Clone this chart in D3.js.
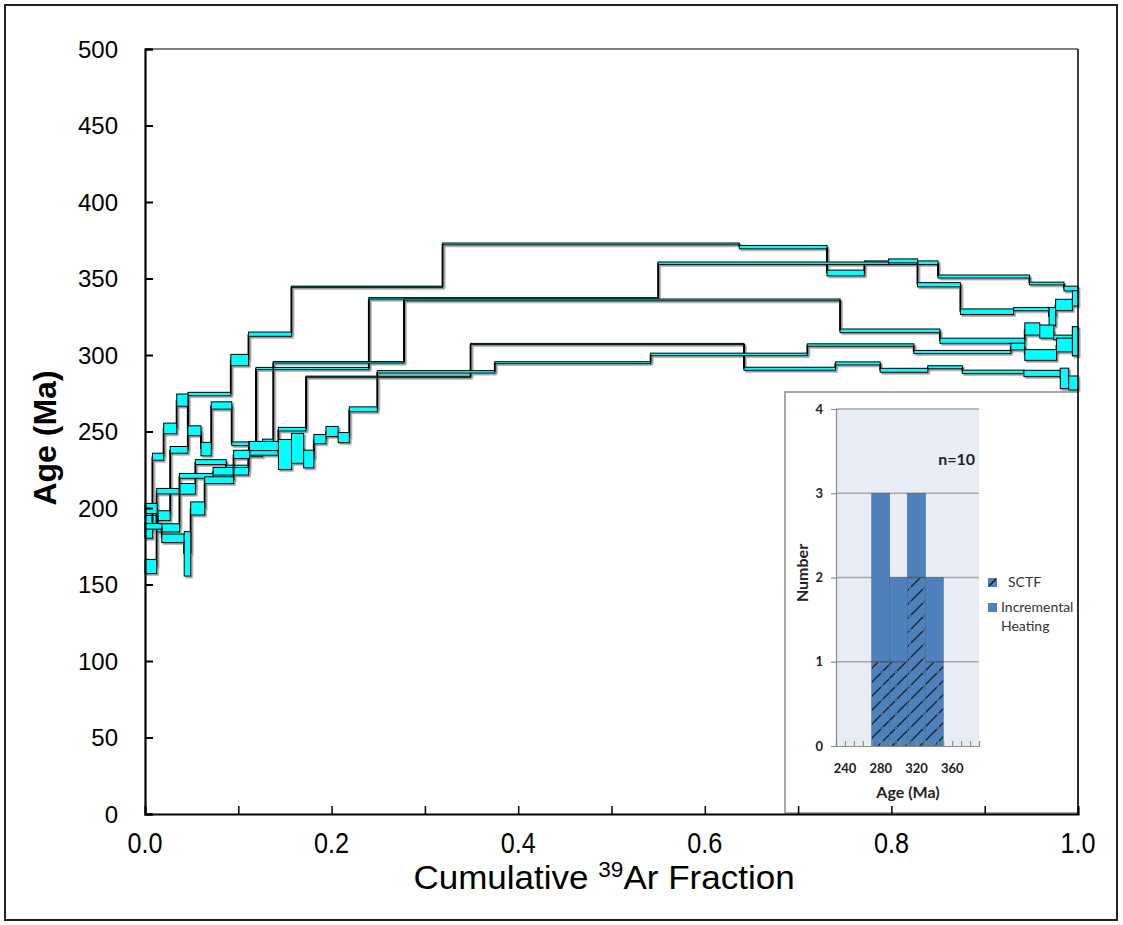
<!DOCTYPE html>
<html>
<head>
<meta charset="utf-8">
<script src="https://cdn.jsdelivr.net/npm/d3@7/dist/d3.min.js"></script>
<style>
  body { margin: 0; background: #fff; }
</style>
</head>
<body>
<svg id="chart" width="1123" height="925"></svg>
<script>
// age spectra, one row per heating step:
// [cumulative 39Ar start, cumulative 39Ar end, age (Ma), half error (Ma)]
var spectrumA = [
  [0.000, 0.014, 192.0, 3.2], [0.014, 0.027, 195.0, 3.2], [0.027, 0.046, 238.0, 2.2],
  [0.046, 0.092, 274.5, 1.1], [0.092, 0.111, 296.7, 3.7], [0.111, 0.157, 313.6, 1.4],
  [0.157, 0.319, 344.6, 0.4], [0.319, 0.637, 372.6, 0.6], [0.637, 0.731, 370.5, 1.1],
  [0.731, 0.771, 353.6, 1.9], [0.771, 0.850, 360.3, 1.2], [0.850, 0.948, 351.3, 1.0],
  [0.948, 0.985, 346.7, 0.9], [0.985, 1.000, 343.4, 1.6]
];
var spectrumB = [
  [0.000, 0.008, 183.5, 3.3], [0.008, 0.020, 233.5, 2.3], [0.020, 0.034, 252.0, 3.5],
  [0.034, 0.046, 270.5, 4.0], [0.046, 0.060, 250.5, 3.2], [0.060, 0.071, 238.5, 4.4],
  [0.071, 0.093, 267.0, 2.4], [0.093, 0.119, 242.0, 1.2], [0.119, 0.240, 291.2, 0.7],
  [0.240, 0.550, 337.0, 0.5], [0.550, 0.797, 360.0, 0.8], [0.797, 0.828, 361.5, 1.3],
  [0.828, 0.874, 345.9, 1.4], [0.874, 0.931, 328.3, 1.8], [0.931, 0.969, 330.0, 1.1],
  [0.969, 0.976, 325.0, 6.0], [0.976, 0.994, 332.7, 3.7], [0.994, 1.000, 337.0, 5.0]
];
var spectrumC = [
  [0.000, 0.0125, 161.8, 4.6], [0.0125, 0.037, 211.0, 1.8], [0.037, 0.054, 212.5, 3.5],
  [0.054, 0.087, 230.0, 1.6], [0.087, 0.111, 225.3, 2.7], [0.111, 0.126, 238.5, 5.0],
  [0.126, 0.1375, 242.0, 3.0], [0.1375, 0.2776, 295.2, 0.5], [0.2776, 0.745, 336.0, 0.6],
  [0.745, 0.852, 315.8, 1.2], [0.852, 0.943, 309.3, 1.7], [0.943, 0.959, 317.0, 4.0],
  [0.959, 0.974, 315.3, 4.3], [0.974, 0.994, 311.5, 1.5], [0.994, 1.000, 309.0, 9.5]
];
var spectrumD = [
  [0.000, 0.013, 199.7, 3.3], [0.013, 0.037, 187.0, 2.7], [0.037, 0.073, 221.0, 1.6],
  [0.073, 0.111, 224.0, 2.5], [0.111, 0.143, 237.0, 2.5], [0.143, 0.1726, 251.5, 1.2],
  [0.1726, 0.349, 285.8, 0.4], [0.349, 0.642, 307.2, 0.4], [0.642, 0.740, 291.0, 1.0],
  [0.740, 0.788, 294.5, 1.0], [0.788, 0.839, 290.0, 1.3], [0.839, 0.876, 292.0, 1.0],
  [0.876, 0.942, 289.0, 1.1], [0.942, 0.981, 288.0, 2.0], [0.981, 0.990, 284.7, 6.7],
  [0.990, 1.000, 281.7, 4.6]
];
var spectrumE = [
  [0.000, 0.018, 188.0, 1.8], [0.018, 0.042, 180.2, 2.8], [0.042, 0.049, 170.0, 14.5],
  [0.049, 0.064, 199.7, 4.3], [0.064, 0.095, 218.2, 2.2], [0.095, 0.112, 235.0, 2.7],
  [0.112, 0.143, 240.5, 3.0], [0.143, 0.157, 235.0, 9.8], [0.157, 0.170, 239.0, 9.8],
  [0.170, 0.181, 232.0, 5.8], [0.181, 0.194, 245.0, 3.0], [0.194, 0.207, 250.0, 3.3],
  [0.207, 0.219, 246.0, 3.3], [0.219, 0.249, 264.5, 1.6], [0.249, 0.375, 289.0, 0.8],
  [0.375, 0.542, 295.0, 0.6], [0.542, 0.710, 300.4, 0.8], [0.710, 0.824, 306.5, 0.8],
  [0.824, 0.928, 302.0, 1.0], [0.928, 0.943, 305.5, 2.2], [0.943, 0.977, 300.0, 3.5],
  [0.977, 0.994, 306.5, 4.5], [0.994, 1.000, 309.0, 9.5]
];

var ageTicks = [0, 50, 100, 150, 200, 250, 300, 350, 400, 450, 500];
var fracTicks = [0, 0.2, 0.4, 0.6, 0.8, 1.0];
var fracMinorTicks = [0.1, 0.2, 0.3, 0.4, 0.5, 0.6, 0.7, 0.8, 0.9];

// inset histogram
var binStart = [270, 290, 310, 330];
var binEnd = [290, 310, 330, 350];
var sctfCount = [1, 1, 2, 1];
var heatingCount = [2, 1, 1, 1];
var histAgeTicks = [240, 280, 320, 360];
var histCountTicks = [0, 1, 2, 3, 4];

var svg = d3.select('#chart');

var margin = {top: 49, right: 45, bottom: 111, left: 145};
var width = 1123 - margin.left - margin.right;
var height = 925 - margin.top - margin.bottom;

var xScale = d3.scaleLinear().domain([0, 1]).range([margin.left, margin.left + width]);
var yScale = d3.scaleLinear().domain([0, 500]).range([margin.top + height, margin.top]);

var defs = svg.append('defs');
var shadow = defs.append('filter').attr('id', 'shadow')
    .attr('x', '-5%').attr('y', '-5%').attr('width', '110%').attr('height', '110%');
shadow.append('feDropShadow')
    .attr('dx', 1.6).attr('dy', 1.6).attr('stdDeviation', 0.6)
    .attr('flood-color', '#808080').attr('flood-opacity', 0.85);

var hatch = defs.append('pattern').attr('id', 'hatch')
    .attr('patternUnits', 'userSpaceOnUse').attr('width', 14).attr('height', 14);
hatch.append('rect').attr('width', 14).attr('height', 14).attr('fill', '#4f81bd');
hatch.append('path').attr('d', 'M1,13 L13,1 M-3,3 L3,-3 M11,17 L17,11')
    .attr('stroke', '#17202e').attr('stroke-width', 1.4);

// outer border
svg.append('rect')
    .attr('x', 5).attr('y', 5).attr('width', 1112).attr('height', 915)
    .attr('fill', 'none').attr('stroke', '#222').attr('stroke-width', 2);

// spectra
var spectra = [spectrumA, spectrumB, spectrumC, spectrumD, spectrumE];
var gSpec = svg.append('g').attr('filter', 'url(#shadow)');

spectra.forEach(function(steps) {
  var g = gSpec.append('g');
  g.selectAll('line')
    .data(steps.slice(1))
    .enter()
    .append('line')
      .attr('x1', d => xScale(d[0]))
      .attr('x2', d => xScale(d[0]))
      .attr('y1', (d, i) => yScale(steps[i][2]))
      .attr('y2', d => yScale(d[2]))
      .attr('stroke', '#000')
      .attr('stroke-width', 2);
  g.selectAll('rect')
    .data(steps)
    .enter()
    .append('rect')
      .attr('x', d => xScale(d[0]))
      .attr('y', d => yScale(d[2] + d[3]))
      .attr('width', d => xScale(d[1]) - xScale(d[0]))
      .attr('height', d => yScale(d[2] - d[3]) - yScale(d[2] + d[3]))
      .attr('fill', '#00ffff')
      .attr('stroke', '#000')
      .attr('stroke-width', 1);
});

// ---- inset histogram ----
var inset = {x: 785, y: 392, w: 293, h: 421};
svg.append('rect')
    .attr('x', inset.x).attr('y', inset.y).attr('width', inset.w).attr('height', inset.h)
    .attr('fill', '#fff').attr('stroke', '#8c8c8c').attr('stroke-width', 1.5);

var hx = d3.scaleLinear().domain([230, 390]).range([836, 979]);
var hy = d3.scaleLinear().domain([0, 4]).range([746, 409]);

var gh = svg.append('g');
gh.append('rect')
    .attr('x', hx(230)).attr('y', hy(4))
    .attr('width', hx(390) - hx(230)).attr('height', hy(0) - hy(4))
    .attr('fill', '#e8ecf4');

gh.selectAll('.grid')
  .data(histCountTicks.slice(1))
  .enter()
  .append('line')
    .attr('x1', hx(230)).attr('x2', hx(390))
    .attr('y1', d => hy(d)).attr('y2', d => hy(d))
    .attr('stroke', '#a6a6a6').attr('stroke-width', 1.5);

// bars: hatched SCTF at bottom, incremental heating on top
gh.selectAll('.ih')
  .data(binStart)
  .enter()
  .append('rect')
    .attr('x', (d, i) => hx(d))
    .attr('width', (d, i) => hx(binEnd[i]) - hx(d))
    .attr('y', (d, i) => hy(sctfCount[i] + heatingCount[i]))
    .attr('height', (d, i) => hy(sctfCount[i]) - hy(sctfCount[i] + heatingCount[i]))
    .attr('fill', '#4f81bd')
    .attr('stroke', '#41679a').attr('stroke-width', 0.6);

gh.selectAll('.sctf')
  .data(binStart)
  .enter()
  .append('rect')
    .attr('x', (d, i) => hx(d))
    .attr('width', (d, i) => hx(binEnd[i]) - hx(d))
    .attr('y', (d, i) => hy(sctfCount[i]))
    .attr('height', (d, i) => hy(0) - hy(sctfCount[i]))
    .attr('fill', 'url(#hatch)')
    .attr('stroke', '#41679a').attr('stroke-width', 0.6);

gh.selectAll('.sctfTop')
  .data(binStart)
  .enter()
  .append('line')
    .attr('x1', d => hx(d)).attr('x2', (d, i) => hx(binEnd[i]))
    .attr('y1', (d, i) => hy(sctfCount[i])).attr('y2', (d, i) => hy(sctfCount[i]))
    .attr('stroke', '#5a5a5a').attr('stroke-width', 1.5);

// inset axes
var hxAxis = d3.axisBottom(hx)
    .tickValues(d3.range(230, 391, 10))
    .tickSize(-5)
    .tickFormat('');
gh.append('g')
    .attr('transform', 'translate(0,' + hy(0) + ')')
    .call(hxAxis)
    .call(g => g.selectAll('line, path').attr('stroke', '#8c8c8c').attr('stroke-width', 1.2));

var hyAxis = d3.axisLeft(hy)
    .tickValues(histCountTicks)
    .tickSize(5)
    .tickFormat('');
gh.append('g')
    .attr('transform', 'translate(' + hx(230) + ',0)')
    .call(hyAxis)
    .call(g => g.selectAll('line, path').attr('stroke', '#8c8c8c').attr('stroke-width', 1.2));

var insetFont = 'Lato, "Open Sans", sans-serif';
gh.selectAll('.hyLab')
  .data(histCountTicks)
  .enter()
  .append('text')
    .attr('x', 823).attr('y', d => hy(d) + 4.5)
    .attr('text-anchor', 'end')
    .style('font-family', insetFont).style('font-weight', 'bold').style('font-size', '13px')
    .attr('fill', '#222')
    .text(d => d);

gh.selectAll('.hxLab')
  .data(histAgeTicks)
  .enter()
  .append('text')
    .attr('x', d => hx(d)).attr('y', 773)
    .attr('text-anchor', 'middle')
    .style('font-family', insetFont).style('font-weight', 'bold').style('font-size', '13px')
    .attr('fill', '#222')
    .text(d => d);

gh.append('text')
    .attr('x', 908).attr('y', 798)
    .attr('text-anchor', 'middle')
    .style('font-family', insetFont).style('font-weight', 'bold').style('font-size', '16px')
    .attr('fill', '#222')
    .text('Age (Ma)');

gh.append('text')
    .attr('transform', 'translate(808,573) rotate(-90)')
    .attr('text-anchor', 'middle')
    .style('font-family', insetFont).style('font-weight', 'bold').style('font-size', '16px')
    .attr('fill', '#222')
    .text('Number');

gh.append('text')
    .attr('x', 975).attr('y', 465)
    .attr('text-anchor', 'end')
    .style('font-family', insetFont).style('font-weight', 'bold').style('font-size', '16px')
    .attr('fill', '#222')
    .text('n=10');

// legend
gh.append('rect').attr('x', 988).attr('y', 578).attr('width', 9).attr('height', 9)
    .attr('fill', '#4f81bd');
gh.append('path').attr('d', 'M989,586 L996,579')
    .attr('stroke', '#17202e').attr('stroke-width', 1.6);
gh.append('text').attr('x', 1008).attr('y', 587)
    .style('font-family', insetFont).style('font-size', '14px').attr('fill', '#333')
    .text('SCTF');
gh.append('rect').attr('x', 988).attr('y', 603).attr('width', 9).attr('height', 9)
    .attr('fill', '#4f81bd');
gh.append('text').attr('x', 1001).attr('y', 612)
    .style('font-family', insetFont).style('font-size', '14px').attr('fill', '#333')
    .text('Incremental');
gh.append('text').attr('x', 1001).attr('y', 631)
    .style('font-family', insetFont).style('font-size', '14px').attr('fill', '#333')
    .text('Heating');

// ---- main axes and frame ----
var font = '"Liberation Sans", Arial, sans-serif';

svg.append('line')
    .attr('x1', xScale(0)).attr('x2', xScale(1))
    .attr('y1', yScale(500)).attr('y2', yScale(500))
    .attr('stroke', '#000').attr('stroke-width', 1.2);
svg.append('line')
    .attr('x1', xScale(1)).attr('x2', xScale(1))
    .attr('y1', yScale(500)).attr('y2', yScale(0))
    .attr('stroke', '#000').attr('stroke-width', 1.5);

var yAxis = d3.axisRight(yScale).tickValues(ageTicks).tickSize(8).tickFormat('');
svg.append('g')
    .attr('transform', 'translate(' + xScale(0) + ',0)')
    .call(yAxis)
    .call(g => g.select('.domain').attr('stroke-width', 2.2))
    .call(g => g.selectAll('.tick line').attr('stroke-width', 2));

var xAxis = d3.axisTop(xScale).tickValues(fracMinorTicks).tickSize(8).tickFormat('');
svg.append('g')
    .attr('transform', 'translate(0,' + yScale(0) + ')')
    .call(xAxis)
    .call(g => g.select('.domain').attr('stroke-width', 2.2))
    .call(g => g.selectAll('.tick line').attr('stroke-width', 1.5));

svg.selectAll('.yLab')
  .data(ageTicks)
  .enter()
  .append('text')
    .attr('x', 118).attr('y', d => yScale(d) + 8.5)
    .attr('text-anchor', 'end')
    .style('font-family', font).style('font-size', '24px')
    .attr('fill', '#000')
    .text(d => d);

svg.selectAll('.xLab')
  .data(fracTicks)
  .enter()
  .append('text')
    .attr('transform', d => 'translate(' + xScale(d) + ',853) scale(0.9,1.08)')
    .attr('text-anchor', 'middle')
    .style('font-family', font).style('font-size', '28px')
    .attr('fill', '#000')
    .text(d => d.toFixed(1));

svg.append('text')
    .attr('transform', 'translate(56,438) rotate(-90)')
    .attr('text-anchor', 'middle')
    .style('font-family', font).style('font-weight', 'bold').style('font-size', '32px')
    .attr('fill', '#000')
    .text('Age (Ma)');

var xTitle = svg.append('text')
    .attr('transform', 'translate(604,889) scale(1.03,1)')
    .attr('text-anchor', 'middle')
    .style('font-family', font).style('font-size', '34px')
    .attr('fill', '#000');
xTitle.append('tspan').text('Cumulative ');
xTitle.append('tspan').attr('dy', -12).style('font-size', '22px').text('39');
xTitle.append('tspan').attr('dy', 12).text('Ar Fraction');
</script>
</body>
</html>
